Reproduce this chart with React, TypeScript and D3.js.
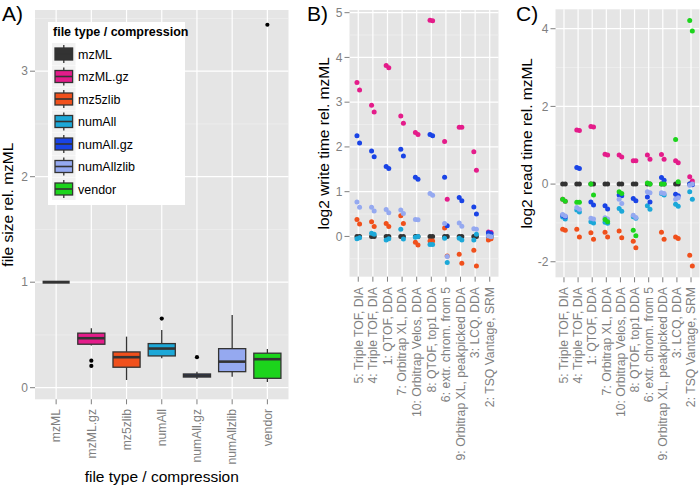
import React from "react";
import * as d3 from "d3";

// ---------- data ----------
const fileTypes = ["mzML", "mzML.gz", "mz5zlib", "numAll", "numAll.gz", "numAllzlib", "vendor"];
const typeColors = ["#333333", "#E41C8A", "#F0501C", "#1CA8D8", "#1A44E6", "#95A9F0", "#1CD41C"];

// panel A box statistics (file size rel. mzML)
const boxWhiskerLow = [1, 0.4, 0.073, 0.279, 0.083, 0.104, 0.054];
const boxQ1 = [1, 0.412, 0.194, 0.301, 0.101, 0.152, 0.089];
const boxMedian = [1, 0.469, 0.289, 0.371, 0.115, 0.247, 0.27];
const boxQ3 = [1, 0.517, 0.339, 0.418, 0.13, 0.37, 0.327];
const boxWhiskerHigh = [1, 0.564, 0.484, 0.548, 0.152, 0.69, 0.367];
const boxOutliers = [[], [0.256, 0.206], [], [0.655], [0.289], [], [3.44]];
const sizeTicks = [0, 1, 2, 3];

const datasets = [
  "5: Triple TOF, DIA",
  "4: Triple TOF, DIA",
  "1: QTOF, DDA",
  "7: Orbitrap XL, DDA",
  "10: Orbitrap Velos, DDA",
  "8: QTOF, top1 DDA",
  "6: extr. chrom. from 5",
  "9: Orbitrap XL, peakpicked DDA",
  "3: LCQ, DDA",
  "2: TSQ Vantage, SRM",
];

// panel B: log2 write time rel. mzML (two replicates per dataset)
const writeMzML = [[0, 0], [0, 0], [0, 0], [0, 0], [0, 0], [0, 0], [0, 0], [0, 0], [0, 0], [0, 0]];
const writeMzMLgz = [[3.44, 3.27], [2.93, 2.78], [3.82, 3.77], [2.69, 2.53], [2.32, 2.28], [4.83, 4.82], [2.12, 0.83], [2.44, 2.44], [1.89, 1.48], [0.1, 0.09]];
const writeMz5zlib = [[0.38, 0.28], [0.33, 0.22], [0.29, 0.22], [0.46, 0.29], [-0.13, -0.19], [-0.1, -0.1], [0.19, -0.44], [-0.4, -0.6], [-0.31, -0.66], [-0.08, -0.05]];
const writeNumAll = [[-0.05, -0.03], [0.07, 0.05], [-0.08, -0.05], [0.16, -0.06], [-0.02, 0.0], [-0.18, -0.18], [-0.04, -0.58], [-0.04, -0.08], [-0.08, 0.05], [0.03, 0.0]];
const writeNumAllgz = [[2.25, 2.09], [1.91, 1.78], [1.56, 1.52], [1.95, 1.8], [1.32, 1.28], [2.28, 2.25], [1.32, 0.24], [0.87, 0.8], [0.66, 0.5], [0.08, 0.06]];
const writeNumAllzlib = [[0.77, 0.65], [0.65, 0.57], [0.6, 0.53], [0.59, 0.51], [0.38, 0.37], [0.96, 0.92], [0.29, -0.45], [0.3, 0.23], [0.17, 0.16], [0.01, -0.01]];
const writeVendor: number[][] = [[], [], [], [], [], [], [], [], [], []];
const writeTicks = [0, 1, 2, 3, 4, 5];

// panel C: log2 read time rel. mzML
const readMzML = [[0, 0], [0, 0], [0, 0], [0, 0], [0, 0], [0, 0], [0, 0], [0, 0], [0, 0], [0, 0]];
const readMzMLgz = [[-0.39, -0.44], [1.39, 1.38], [1.48, 1.47], [0.77, 0.75], [0.75, 0.7], [0.6, 0.6], [0.75, 0.64], [0.76, 0.64], [0.6, 0.55], [0.19, 0.08]];
const readMz5zlib = [[-1.16, -1.19], [-1.16, -1.36], [-1.25, -1.42], [-1.24, -1.36], [-1.21, -1.38], [-1.47, -1.64], [], [-1.24, -1.42], [-1.36, -1.4], [-1.83, -2.11]];
const readNumAll = [[-0.85, -0.9], [-0.67, -0.72], [-0.97, -1.0], [-0.98, -1.01], [-0.63, -0.7], [-0.84, -0.88], [-0.56, -0.65], [-0.24, -0.28], [-0.52, -0.57], [-0.2, -0.39]];
const readNumAllgz = [[-0.8, -0.84], [0.43, 0.4], [-0.46, -0.54], [-0.56, -0.64], [-0.28, -0.3], [-0.37, -0.43], [-0.33, -0.46], [0.17, 0.1], [-0.26, -0.3], [0.0, -0.02]];
const readNumAllzlib = [[-0.78, -0.82], [-0.6, -0.65], [-0.88, -0.9], [-0.87, -0.9], [-0.39, -0.5], [-0.8, -0.86], [-0.2, -0.22], [-0.22, -0.24], [-0.39, -0.35], [-0.03, 0.0]];
const readVendor = [[-0.39, -0.44], [-0.47, -0.47], [0.0, -0.28], [-0.91, -0.97], [-0.2, -0.24], [-1.19, -1.33], [0.03, 0.0], [0.0, 0.0], [1.15, 0.06], [4.21, 3.94]];
const readTicks = [-2, 0, 2, 4];

const writeSeries = [writeMzML, writeMzMLgz, writeMz5zlib, writeNumAll, writeNumAllgz, writeNumAllzlib, writeVendor];
const readSeries = [readMzML, readMzMLgz, readMz5zlib, readNumAll, readNumAllgz, readNumAllzlib, readVendor];

// ---------- style ----------
const FONT = "'Liberation Sans', Arial, Helvetica, sans-serif";
const PANEL_BG = "#E5E5E5";
const TICK_COL = "#7F7F7F";
const EDGE = "#333333";

function Grid({ x, y, cats, majors, minors, top, bottom, left, right }: any) {
  return (
    <g>
      <rect x={left} y={top} width={right - left} height={bottom - top} fill={PANEL_BG} />
      {minors.map((v: number) => (
        <line key={"mi" + v} x1={left} x2={right} y1={y(v)} y2={y(v)} stroke="#F2F2F2" strokeWidth={0.6} />
      ))}
      {majors.map((v: number) => (
        <line key={"ma" + v} x1={left} x2={right} y1={y(v)} y2={y(v)} stroke="#FFFFFF" strokeWidth={1.2} />
      ))}
      {cats.map((c: string) => (
        <line key={"v" + c} x1={x(c)} x2={x(c)} y1={top} y2={bottom} stroke="#FFFFFF" strokeWidth={1.2} />
      ))}
    </g>
  );
}

function YAxis({ y, ticks, left }: any) {
  return (
    <g>
      {ticks.map((v: number) => (
        <g key={v}>
          <line x1={left - 5} x2={left} y1={y(v)} y2={y(v)} stroke={TICK_COL} strokeWidth={1} />
          <text x={left - 7} y={y(v)} dy="0.35em" textAnchor="end" fontSize={12} fill={TICK_COL} fontFamily={FONT}>
            {v}
          </text>
        </g>
      ))}
    </g>
  );
}

function XAxis({ x, cats, bottom, labelY }: any) {
  return (
    <g>
      {cats.map((c: string) => (
        <g key={c}>
          <line x1={x(c)} x2={x(c)} y1={bottom} y2={bottom + 5} stroke={TICK_COL} strokeWidth={1} />
          <text
            transform={`translate(${x(c)},${labelY}) rotate(-90)`}
            dy="0.35em"
            textAnchor="end"
            fontSize={12.2}
            fill={TICK_COL}
            fontFamily={FONT}
          >
            {c}
          </text>
        </g>
      ))}
    </g>
  );
}

function PanelA() {
  const left = 35, right = 288.5, top = 10, bottom = 399.3;
  const x = d3.scalePoint<string>().domain(fileTypes).range([left, right]).padding(0.6);
  const y = d3.scaleLinear().domain([-0.11, 3.58]).range([bottom, top]);
  const bw = x.step() * 0.77;
  return (
    <g>
      <Grid x={x} y={y} cats={fileTypes} majors={sizeTicks} minors={[0.5, 1.5, 2.5, 3.5]} top={top} bottom={bottom} left={left} right={right} />
      {fileTypes.map((t, i) => {
        const cx = x(t)!;
        const collapsed = boxQ3[i] === boxQ1[i];
        return (
          <g key={t}>
            <line x1={cx} x2={cx} y1={y(boxWhiskerHigh[i])} y2={y(boxQ3[i])} stroke={EDGE} strokeWidth={1.3} />
            <line x1={cx} x2={cx} y1={y(boxQ1[i])} y2={y(boxWhiskerLow[i])} stroke={EDGE} strokeWidth={1.3} />
            {!collapsed && (
              <rect x={cx - bw / 2} y={y(boxQ3[i])} width={bw} height={y(boxQ1[i]) - y(boxQ3[i])} fill={typeColors[i]} stroke={EDGE} strokeWidth={1.3} />
            )}
            <line x1={cx - bw / 2} x2={cx + bw / 2} y1={y(boxMedian[i])} y2={y(boxMedian[i])} stroke={EDGE} strokeWidth={collapsed ? 3 : 2.6} />
            {boxOutliers[i].map((v, j) => (
              <circle key={j} cx={cx} cy={y(v)} r={2.1} fill="#000" />
            ))}
          </g>
        );
      })}
      <YAxis y={y} ticks={sizeTicks} left={left} />
      <XAxis x={x} cats={fileTypes} bottom={bottom} labelY={409} />
      <text transform={`translate(13,${(top + bottom) / 2}) rotate(-90)`} textAnchor="middle" fontSize={15.5} fontFamily={FONT} fill="#000">
        file size rel. mzML
      </text>
      <text x={(left + right) / 2} y={482} textAnchor="middle" fontSize={15.5} fontFamily={FONT} fill="#000">
        file type / compression
      </text>
      {/* legend */}
      <g>
        <rect x={48} y={22} width={137} height={183} fill="#FFFFFF" />
        <text x={53} y={36} fontSize={12.5} fontWeight="bold" fontFamily={FONT} fill="#000">
          file type / compression
        </text>
        {fileTypes.map((t, i) => {
          const cy = 54 + i * 22.5;
          return (
            <g key={t}>
              <rect x={52} y={cy - 11} width={23.5} height={22} fill="#F2F2F2" />
              <line x1={63.8} x2={63.8} y1={cy - 9} y2={cy + 9} stroke={EDGE} strokeWidth={1.3} />
              <rect x={55} y={cy - 6} width={17.6} height={12} fill={typeColors[i]} stroke={EDGE} strokeWidth={1.3} />
              <line x1={55} x2={72.6} y1={cy} y2={cy} stroke={EDGE} strokeWidth={1.6} />
              <text x={78} y={cy} dy="0.36em" fontSize={12.5} fontFamily={FONT} fill="#000">
                {t}
              </text>
            </g>
          );
        })}
      </g>
    </g>
  );
}

function DotPanel({ left, right, top, bottom, yDomain, majors, minors, series, title, titleX }: any) {
  const x = d3.scalePoint<string>().domain(datasets).range([left, right]).padding(0.6);
  const y = d3.scaleLinear().domain(yDomain).range([bottom, top]);
  const offsets = [-1.3, 1.3];
  return (
    <g>
      <Grid x={x} y={y} cats={datasets} majors={majors} minors={minors} top={top} bottom={bottom} left={left} right={right} />
      {series.map((s: number[][], si: number) => (
        <g key={si}>
          {s.map((vals, ci) =>
            vals.map((v, k) => (
              <circle key={ci + "-" + k} cx={x(datasets[ci])! + offsets[k % 2]} cy={y(v)} r={2.5} fill={typeColors[si]} />
            ))
          )}
        </g>
      ))}
      <YAxis y={y} ticks={majors} left={left} />
      <XAxis x={x} cats={datasets} bottom={bottom} labelY={287} />
      <text transform={`translate(${titleX},${(top + bottom) / 2}) rotate(-90)`} textAnchor="middle" fontSize={15.5} fontFamily={FONT} fill="#000">
        {title}
      </text>
    </g>
  );
}

export default function App() {
  return (
    <svg width={700} height={486} style={{ position: "absolute", left: 0, top: 0, background: "#fff" }} fontFamily={FONT}>
      <rect width={700} height={486} fill="#FFFFFF" />
      <PanelA />
      <DotPanel
        left={349.5} right={498.5} top={10} bottom={276.7}
        yDomain={[-0.9, 5.06]} majors={writeTicks} minors={[-0.5, 0.5, 1.5, 2.5, 3.5, 4.5]}
        series={writeSeries} title="log2 write time rel. mzML" titleX={329}
      />
      <DotPanel
        left={555.5} right={699.5} top={9.3} bottom={277.3}
        yDomain={[-2.4, 4.5]} majors={readTicks} minors={[-1, 1, 3]}
        series={readSeries} title="log2 read time rel. mzML" titleX={532}
      />
      <text x={2} y={21} fontSize={21} fontFamily={FONT} fill="#000">A)</text>
      <text x={307} y={21} fontSize={21} fontFamily={FONT} fill="#000">B)</text>
      <text x={516} y={21} fontSize={21} fontFamily={FONT} fill="#000">C)</text>
    </svg>
  );
}
